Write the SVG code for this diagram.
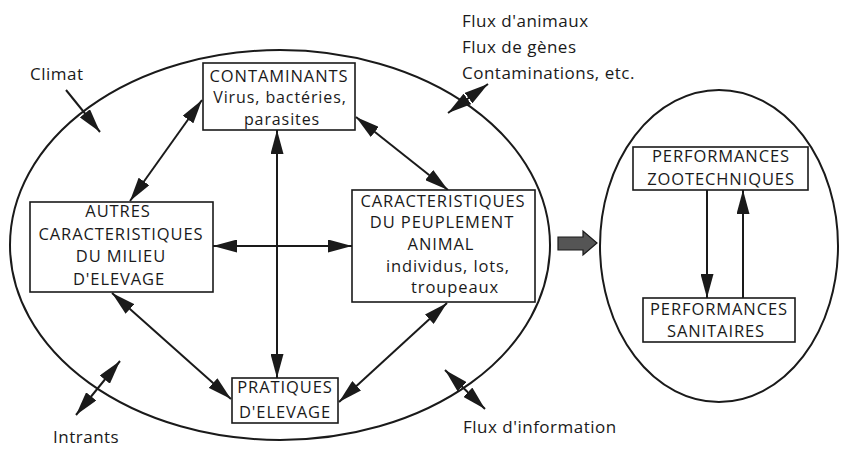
<svg xmlns="http://www.w3.org/2000/svg" width="842" height="449" viewBox="0 0 842 449">
  <defs>
    <style>
      .box { fill: #ffffff; stroke: #1a1a1a; stroke-width: 1.6; }
      .oval { fill: none; stroke: #1a1a1a; stroke-width: 2; }
      .t { font-family: "Open Sans", "Liberation Sans", sans-serif; font-size: 16.5px; letter-spacing: 0.9px; fill: #1a1a1a; text-anchor: middle; }
      .s { font-size: 16px; }
      .lbl { font-family: "Open Sans", "Liberation Sans", sans-serif; font-size: 17px; letter-spacing: 0.5px; fill: #1a1a1a; }
      .arr { stroke: #1a1a1a; stroke-width: 2; fill: none; }
    </style>
    <marker id="ah" viewBox="0 0 24 13" refX="24" refY="6.5" markerWidth="24" markerHeight="13" markerUnits="userSpaceOnUse" orient="auto-start-reverse">
      <path d="M0,0 L24,6.5 L0,13 z" fill="#1a1a1a"/>
    </marker>
  </defs>
  <rect width="842" height="449" fill="#ffffff"/>

  <g id="ellipse-main"><ellipse class="oval" cx="280" cy="245" rx="270" ry="195"/></g>
  <g id="ellipse-perf"><ellipse class="oval" cx="719" cy="246" rx="119" ry="156"/></g>

  <g id="connectors">
    <line class="arr" x1="130" y1="201" x2="202" y2="100" marker-start="url(#ah)" marker-end="url(#ah)"/>
    <line class="arr" x1="356" y1="117" x2="448" y2="190" marker-start="url(#ah)" marker-end="url(#ah)"/>
    <line class="arr" x1="213" y1="246" x2="352" y2="246" marker-start="url(#ah)" marker-end="url(#ah)"/>
    <line class="arr" x1="277" y1="130" x2="277" y2="378" marker-start="url(#ah)" marker-end="url(#ah)"/>
    <line class="arr" x1="112" y1="293" x2="231" y2="399" marker-start="url(#ah)" marker-end="url(#ah)"/>
    <line class="arr" x1="447" y1="303" x2="339" y2="402" marker-start="url(#ah)" marker-end="url(#ah)"/>
    <line class="arr" x1="66" y1="90" x2="100" y2="132" marker-end="url(#ah)"/>
    <line class="arr" x1="76" y1="415" x2="120" y2="361" marker-start="url(#ah)" marker-end="url(#ah)"/>
    <line class="arr" x1="445" y1="370" x2="485" y2="409" marker-start="url(#ah)" marker-end="url(#ah)"/>
    <line class="arr" x1="448" y1="113" x2="488" y2="84" marker-start="url(#ah)" marker-end="url(#ah)"/>
    <line class="arr" x1="707" y1="190" x2="707" y2="298" marker-end="url(#ah)"/>
    <line class="arr" x1="743" y1="298" x2="743" y2="190" marker-end="url(#ah)"/>
    <path d="M558,237 L583,237 L583,231 L597,243 L583,255 L583,250 L558,250 z" fill="#555555" stroke="#1a1a1a" stroke-width="1.2"/>
  </g>

  <g id="contaminants">
    <rect class="box" x="203" y="63" width="152" height="67"/>
    <text class="t" x="279" y="82">CONTAMINANTS</text>
    <text class="t s" x="280" y="103">Virus, bactéries,</text>
    <text class="t s" x="282" y="125">parasites</text>
  </g>

  <g id="peuplement">
    <rect class="box" x="352" y="190" width="183" height="112"/>
    <text class="t" x="443" y="207">CARACTERISTIQUES</text>
    <text class="t" x="442" y="228">DU PEUPLEMENT</text>
    <text class="t" x="441" y="250">ANIMAL</text>
    <text class="t" x="448" y="272">individus, lots,</text>
    <text class="t" x="455" y="293">troupeaux</text>
  </g>

  <g id="milieu">
    <rect class="box" x="30" y="202" width="183" height="90"/>
    <text class="t" x="118" y="217">AUTRES</text>
    <text class="t" x="121" y="240">CARACTERISTIQUES</text>
    <text class="t" x="121" y="262">DU MILIEU</text>
    <text class="t" x="119" y="285">D'ELEVAGE</text>
  </g>

  <g id="pratiques">
    <rect class="box" x="232" y="378" width="106" height="45"/>
    <text class="t" x="285" y="393">PRATIQUES</text>
    <text class="t" x="285" y="418">D'ELEVAGE</text>
  </g>

  <g id="perf-zoo">
    <rect class="box" x="633" y="147" width="175" height="43"/>
    <text class="t" x="721" y="162">PERFORMANCES</text>
    <text class="t" x="721" y="185">ZOOTECHNIQUES</text>
  </g>

  <g id="perf-san">
    <rect class="box" x="643" y="298" width="152" height="44"/>
    <text class="t" x="719" y="315">PERFORMANCES</text>
    <text class="t" x="716" y="337">SANITAIRES</text>
  </g>

  <g id="labels">
    <text class="lbl" x="30" y="80">Climat</text>
    <text class="lbl" x="462" y="27">Flux d'animaux</text>
    <text class="lbl" x="462" y="53">Flux de gènes</text>
    <text class="lbl" x="462" y="79">Contaminations, etc.</text>
    <text class="lbl" x="53" y="443">Intrants</text>
    <text class="lbl" x="463" y="433">Flux d'information</text>
  </g>
</svg>
